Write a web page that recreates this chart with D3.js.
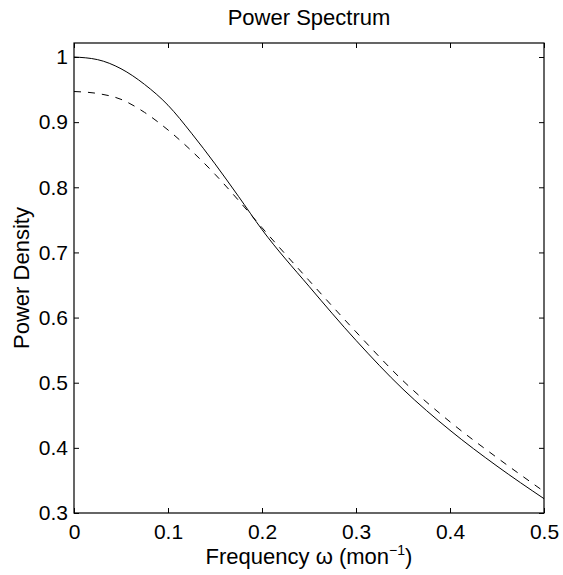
<!DOCTYPE html>
<html>
<head>
<meta charset="utf-8">
<script src="https://cdn.jsdelivr.net/npm/d3@7"></script>
<style>
  body { margin: 0; background: #fff; }
  text { font-family: "Liberation Sans", Arial, Helvetica, sans-serif; fill: #000; }
</style>
</head>
<body>
<div id="chart"></div>
<script>
const freq = [0, 0.025, 0.05, 0.075, 0.1, 0.125, 0.15, 0.175, 0.2, 0.25, 0.3, 0.35, 0.4, 0.45, 0.5]
// solid curve
const solidPower = [1.000, 0.996, 0.982, 0.958, 0.926, 0.883, 0.836, 0.786, 0.735, 0.648, 0.565, 0.490, 0.427, 0.372, 0.322]
// dashed curve
const dashedPower = [0.947, 0.944, 0.935, 0.915, 0.888, 0.856, 0.820, 0.780, 0.738, 0.657, 0.578, 0.503, 0.440, 0.385, 0.333]

const xTicks = [0, 0.1, 0.2, 0.3, 0.4, 0.5]
const xTickLabels = ["0", "0.1", "0.2", "0.3", "0.4", "0.5"]
const yTicks = [0.3, 0.4, 0.5, 0.6, 0.7, 0.8, 0.9, 1]
const yTickLabels = ["0.3", "0.4", "0.5", "0.6", "0.7", "0.8", "0.9", "1"]

drawChart()

function drawChart() {
    let margin = { top: 43, right: 19, bottom: 62, left: 74 }
    let width = 563 - margin.left - margin.right
    let height = 575 - margin.top - margin.bottom

    let svg = d3.select("#chart")
        .append("svg")
        .attr("width", 563)
        .attr("height", 575)

    let g = svg.append("g")
        .attr("transform", "translate(" + margin.left + "," + margin.top + ")")

    let x = d3.scaleLinear().domain([0, 0.5]).range([0, width])
    let y = d3.scaleLinear().domain([0.3, 1.0215]).range([height, 0])

    // inward ticks on all four sides, labels only bottom and left
    let bottom = g.append("g")
        .attr("transform", "translate(0," + height + ")")
        .call(d3.axisBottom(x).tickValues(xTicks)
            .tickFormat((d, i) => xTickLabels[i])
            .tickSizeInner(-5).tickSizeOuter(0).tickPadding(11))
    let left = g.append("g")
        .call(d3.axisLeft(y).tickValues(yTicks)
            .tickFormat((d, i) => yTickLabels[i])
            .tickSizeInner(-5).tickSizeOuter(0).tickPadding(6))
    let top = g.append("g")
        .call(d3.axisTop(x).tickValues(xTicks).tickFormat("")
            .tickSizeInner(-5).tickSizeOuter(0))
    let right = g.append("g")
        .attr("transform", "translate(" + width + ",0)")
        .call(d3.axisRight(y).tickValues(yTicks).tickFormat("")
            .tickSizeInner(-5).tickSizeOuter(0))

    ;[bottom, left, top, right].forEach(a => {
        a.select(".domain").remove()
        a.selectAll("line").attr("stroke", "#000")
        a.selectAll("text").style("font-size", "21px").attr("fill", "#000")
    })

    // curves
    let line = (vals) => d3.line()
        .x((d, i) => x(freq[i]))
        .y((d) => y(d))
        .curve(d3.curveMonotoneX)(vals)

    g.append("path")
        .attr("d", line(dashedPower))
        .attr("fill", "none")
        .attr("stroke", "#000")
        .attr("stroke-width", 1)
        .attr("stroke-dasharray", "7,7")

    g.append("path")
        .attr("d", line(solidPower))
        .attr("fill", "none")
        .attr("stroke", "#000")
        .attr("stroke-width", 1)

    // box
    g.append("rect")
        .attr("x", 0).attr("y", 0)
        .attr("width", width).attr("height", height)
        .attr("fill", "none")
        .attr("stroke", "#000")
        .attr("stroke-width", 1.2)

    // title
    svg.append("text")
        .attr("x", margin.left + width / 2)
        .attr("y", 25)
        .attr("text-anchor", "middle")
        .style("font-size", "22px")
        .text("Power Spectrum")

    // x label
    let xl = svg.append("text")
        .attr("x", margin.left + width / 2)
        .attr("y", 564)
        .attr("text-anchor", "middle")
        .style("font-size", "22px")
    xl.append("tspan").text("Frequency \u03c9 (mon")
    xl.append("tspan").attr("dy", -9).style("font-size", "14px").text("\u22121")
    xl.append("tspan").attr("dy", 9).text(")")

    // y label
    svg.append("text")
        .attr("transform", "translate(29," + (margin.top + height / 2) + ") rotate(-90)")
        .attr("text-anchor", "middle")
        .style("font-size", "22px")
        .text("Power Density")
}
</script>
</body>
</html>
